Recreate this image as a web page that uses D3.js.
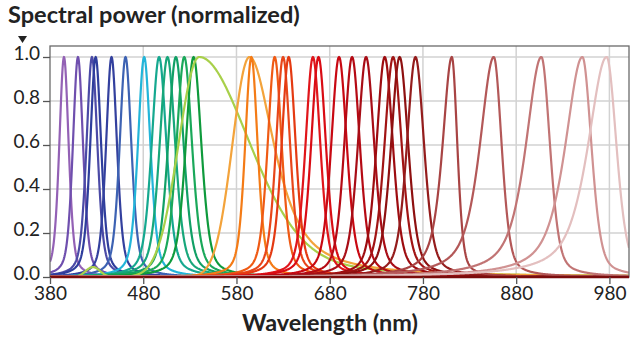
<!DOCTYPE html>
<html>
<head>
<meta charset="utf-8">
<script src="https://cdn.jsdelivr.net/npm/d3@7"></script>
<style>
  html, body { margin: 0; padding: 0; background: #fff; }
  svg { display: block; }
  text { font-family: Lato, "Open Sans", sans-serif; fill: #222; }
</style>
</head>
<body>
<svg id="chart" width="640" height="337"></svg>
<script>
// ---------- data ----------
const peakNm = [395, 410, 425, 429, 446, 461, 481, 497, 506, 515, 524, 534,
                540, 594, 596, 621, 630, 636, 662, 668, 690, 704, 719, 739,
                748, 755, 772, 811, 856, 907, 951, 977];
const halfWidthLeftNm  = [6, 6.5, 7, 7, 7, 7.5, 8, 9.5, 10, 10, 10, 10,
                          26, 21.5, 8, 9, 9, 9, 9.5, 9.5, 10, 10, 10.5, 10.5,
                          11, 11, 11, 12, 18, 20, 22, 24];
const halfWidthRightNm = [6, 6.5, 7, 7, 7, 7.5, 8, 9.5, 10, 10, 10, 10,
                          65, 32, 8, 9, 9, 9, 9.5, 9.5, 10, 10, 10.5, 10.5,
                          11, 11, 11, 7, 10, 11, 11.5, 12.5];
const tailMixLeft  = [0.45, 0.45, 0.45, 0.45, 0.45, 0.45, 0.45, 0.45, 0.45, 0.45, 0.45, 0.45,
                      0.0, 0.0, 0.45, 0.45, 0.45, 0.45, 0.45, 0.45, 0.45, 0.45, 0.45, 0.45,
                      0.45, 0.45, 0.45, 0.7, 0.7, 0.7, 0.7, 0.7];
const tailMixRight = [0.45, 0.45, 0.45, 0.45, 0.45, 0.45, 0.45, 0.45, 0.45, 0.45, 0.45, 0.45,
                      0.3, 0.8, 0.45, 0.45, 0.45, 0.45, 0.45, 0.45, 0.45, 0.45, 0.45, 0.45,
                      0.45, 0.45, 0.45, 0.4, 0.4, 0.4, 0.4, 0.4];
const curveColors = ["#9361b5", "#6f4fae", "#4b4aa6", "#2e3d9c", "#33409e", "#3d62b3",
                     "#22b5d9", "#15a88f", "#17a77b", "#11a066", "#1aa85a", "#0e9a3c",
                     "#a8d04a", "#f3a33b", "#f47b16", "#ef5a14", "#e8461a", "#e43a12",
                     "#e0151a", "#d90c14", "#c80812", "#b50a14", "#a80d16", "#9d0c10",
                     "#a11414", "#8e1010", "#941c1c", "#a84444", "#b35858", "#c17474",
                     "#d09292", "#e3bfbf"];
// secondary pump bump of the phosphor-converted lime LED (series index 12)
const bumpSeries = [12];
const bumpNm = [426];
const bumpHeight = [0.045];
const bumpHalfWidthNm = [9];

const xTicks = [380, 480, 580, 680, 780, 880, 980];
const yTicks = [0.0, 0.2, 0.4, 0.6, 0.8, 1.0];
const titleText = "Spectral power (normalized)";
const xLabelText = "Wavelength (nm)";

(function () {
// ---------- layout ----------
const svg = d3.select("#chart");
const pL = 50, pR = 629, pT = 46, pB = 277;
const x = d3.scaleLinear().domain([380, 1001]).range([pL, pR]);
const y = d3.scaleLinear().domain([0, 1.05]).range([pB, pT]);

// grid
svg.append("g").selectAll("line").data(xTicks.slice(1)).join("line")
  .attr("x1", d => x(d)).attr("x2", d => x(d)).attr("y1", pT).attr("y2", pB)
  .attr("stroke", "#d2d2d2").attr("stroke-width", 1.5);
svg.append("g").selectAll("line").data(yTicks.slice(1)).join("line")
  .attr("x1", pL).attr("x2", pR).attr("y1", d => y(d)).attr("y2", d => y(d))
  .attr("stroke", "#d2d2d2").attr("stroke-width", 1.5);

// curves
function shape(d, w, eta) {
  const u = d / w;
  return eta / (1 + u * u) + (1 - eta) * Math.exp(-Math.LN2 * u * u);
}
const samples = d3.range(380, 1001.01, 0.5);
const series = peakNm.map((p, i) => {
  const pts = samples.map(nm => {
    const d = nm - p;
    let v = d < 0 ? shape(d, halfWidthLeftNm[i], tailMixLeft[i])
                  : shape(d, halfWidthRightNm[i], tailMixRight[i]);
    bumpSeries.forEach((s, k) => {
      if (s === i) v += bumpHeight[k] * Math.exp(-Math.LN2 * Math.pow((nm - bumpNm[k]) / bumpHalfWidthNm[k], 2));
    });
    return [nm, v];
  });
  return { color: curveColors[i], pts };
});

svg.append("clipPath").attr("id", "plotclip").append("rect")
  .attr("x", pL).attr("y", pT - 2).attr("width", pR - pL).attr("height", pB - pT + 4);

const line = d3.line().x(d => x(d[0])).y(d => y(d[1]));
svg.append("g").attr("clip-path", "url(#plotclip)")
  .selectAll("path").data(series).join("path")
  .attr("d", d => line(d.pts))
  .attr("fill", "none")
  .attr("stroke", d => d.color)
  .attr("stroke-width", 2.2)
  .attr("stroke-linejoin", "round");

// frame
svg.append("rect").attr("x", pL).attr("y", pT).attr("width", pR - pL).attr("height", pB - pT)
  .attr("fill", "none").attr("stroke", "#6a6a6a").attr("stroke-width", 1.3);
// baseline (dark red tails)
svg.append("line").attr("x1", pL).attr("x2", pR).attr("y1", pB).attr("y2", pB)
  .attr("stroke", "#7a0c0c").attr("stroke-width", 2.5);

// axes
const yAxis = d3.axisLeft(y).tickValues(yTicks).tickFormat(d3.format(".1f")).tickSize(7).tickPadding(3);
const gy = svg.append("g").attr("transform", `translate(${pL},0)`).call(yAxis);
gy.select(".domain").remove();
gy.selectAll(".tick line").attr("stroke", "#555").attr("stroke-width", 1.3);
gy.selectAll(".tick text").attr("font-size", 19).attr("font-family", "Lato, sans-serif")
  .attr("fill", "#222").attr("dy", "0.12em");

const xAxis = d3.axisBottom(x).tickValues(xTicks).tickFormat(d3.format("d")).tickSize(7).tickPadding(3);
const gx = svg.append("g").attr("transform", `translate(0,${pB})`).call(xAxis);
gx.select(".domain").remove();
gx.selectAll(".tick line").attr("stroke", "#555").attr("stroke-width", 1.3);
gx.selectAll(".tick text").attr("font-size", 19).attr("font-family", "Lato, sans-serif").attr("fill", "#222");

// titles
function fit(sel, target) {
  const w = sel.node().getComputedTextLength();
  const fs = parseFloat(sel.attr("font-size"));
  sel.attr("font-size", fs * target / w);
}
const t = svg.append("text").attr("x", 8).attr("y", 23).attr("font-size", 19)
  .attr("font-weight", "bold").text(titleText);
fit(t, 292);
const xl = svg.append("text").attr("x", 330).attr("y", 331).attr("text-anchor", "middle")
  .attr("font-size", 19).attr("font-weight", "bold").text(xLabelText);
fit(xl, 176);

// marker triangle under the title
svg.append("path").attr("d", "M18,36 L27,36 L22.5,43 Z").attr("fill", "#222");
})();
</script>
</body>
</html>
